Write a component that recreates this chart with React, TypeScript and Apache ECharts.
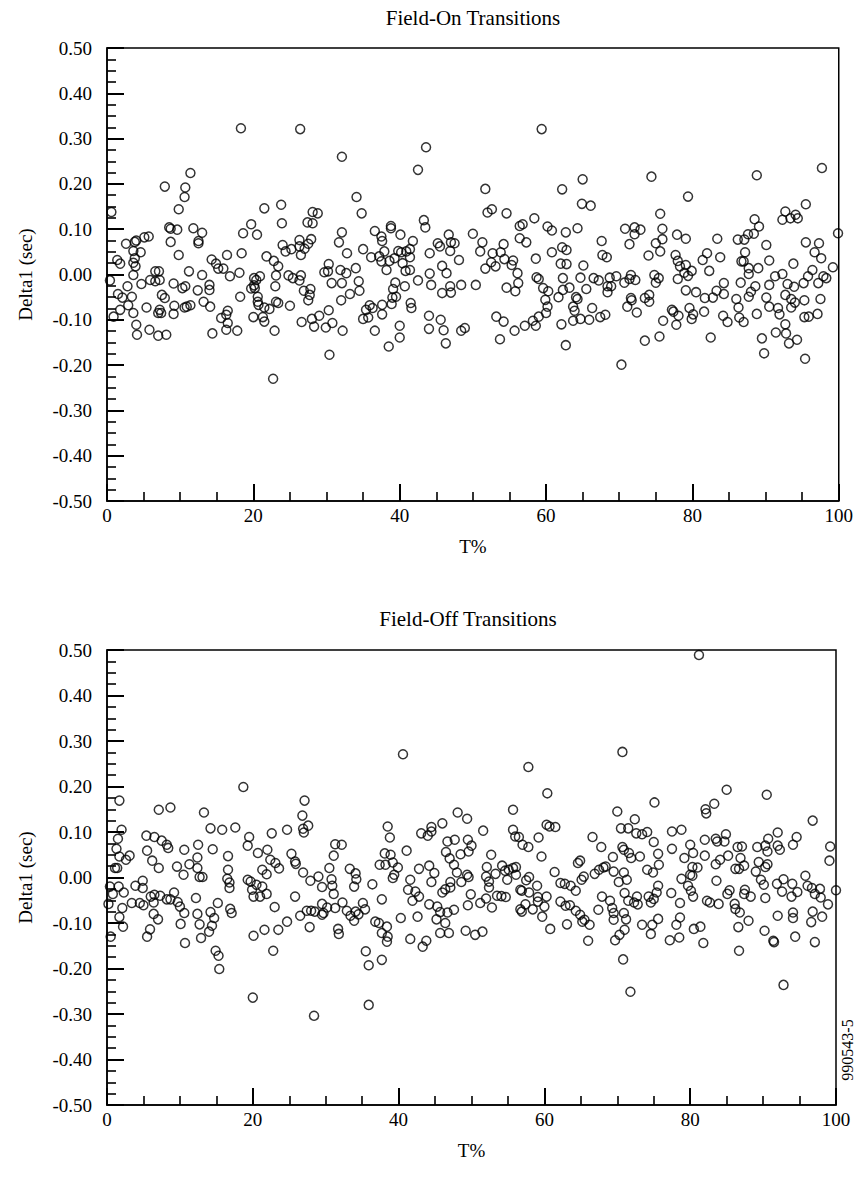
import React, { useEffect, useRef } from 'react';
import * as echarts from 'echarts';

// [T%, Delta1 (sec)]
const fieldOnPoints: number[][] = [
  [0.6,0.138],[11.4,0.224],[7.9,0.194],[10.7,0.192],[10.6,0.171],[9.8,0.144],[8.5,0.104],[8.7,0.101],[9.6,0.099],[11.8,0.102],[13.0,0.092],[12.5,0.074],[12.5,0.069],[8.7,0.072],[9.8,0.043],[5.1,0.082],[5.7,0.084],[4.0,0.075],[3.8,0.072],[2.6,0.068],[3.6,0.052],[4.6,0.049],[3.8,0.036],[3.6,0.026],[1.4,0.032],[1.8,0.024],[3.9,0.018],[3.6,-0.001],[0.4,-0.013],[2.8,-0.026],[4.7,-0.021],[1.5,-0.043],[2.1,-0.051],[3.4,-0.049],[2.9,-0.068],[1.8,-0.078],[0.9,-0.093],[3.6,-0.085],[4.0,-0.111],[4.1,-0.133],[5.8,-0.122],[7.0,-0.135],[8.1,-0.133],[5.4,-0.073],[6.6,0.007],[7.1,0.007],[5.9,-0.012],[6.6,-0.015],[7.2,-0.012],[7.5,-0.045],[7.9,-0.052],[9.1,-0.020],[10.3,-0.030],[10.7,-0.026],[11.2,0.007],[12.4,-0.035],[13.0,-0.001],[14.0,-0.023],[14.0,-0.034],[13.2,-0.060],[14.1,-0.071],[7.2,-0.078],[7.4,-0.085],[7.0,-0.085],[9.2,-0.069],[9.1,-0.087],[10.6,-0.073],[10.9,-0.071],[11.4,-0.068],[14.4,-0.130],[14.3,0.033],[14.9,0.024],[15.2,0.013],[15.6,-0.096],[15.9,0.013],
  [18.3,0.323],[26.4,0.321],[32.1,0.260],[21.5,0.146],[23.8,0.154],[19.7,0.111],[23.9,0.113],[28.1,0.138],[28.8,0.135],[27.4,0.115],[28.1,0.113],[18.6,0.091],[20.5,0.088],[32.1,0.093],[31.7,0.071],[32.8,0.047],[26.3,0.076],[27.9,0.078],[27.5,0.068],[26.3,0.062],[27.0,0.057],[26.5,0.043],[24.0,0.065],[24.4,0.051],[25.2,0.056],[16.4,0.043],[18.4,0.047],[21.8,0.040],[22.8,0.030],[23.4,0.018],[16.8,-0.004],[18.1,0.004],[23.1,-0.002],[24.8,-0.002],[25.4,-0.008],[26.5,-0.002],[26.3,-0.013],[20.1,-0.008],[20.4,-0.012],[20.9,-0.004],[19.7,-0.031],[20.2,-0.030],[20.1,-0.024],[20.6,-0.049],[20.6,-0.060],[20.7,-0.067],[21.5,-0.073],[22.2,-0.076],[23.0,-0.026],[23.1,-0.060],[23.4,-0.063],[25.0,-0.069],[18.2,-0.049],[26.9,-0.036],[27.8,-0.032],[27.7,-0.045],[27.5,-0.057],[29.7,0.005],[30.3,0.023],[30.2,0.007],[30.7,-0.019],[31.9,0.010],[32.7,0.003],[32.1,-0.019],[33.2,-0.043],[32.0,-0.057],[30.3,-0.079],[20.0,-0.094],[21.3,-0.094],[21.5,-0.104],[16.5,-0.080],[16.5,-0.107],[16.3,-0.089],[16.3,-0.122],[17.8,-0.124],[22.9,-0.124],[26.6,-0.105],[28.0,-0.098],[28.3,-0.115],[29.0,-0.091],[29.9,-0.117],[30.8,-0.107],[32.2,-0.124],[30.4,-0.177],[22.7,-0.230],
  [43.6,0.281],[42.5,0.231],[34.1,0.171],[34.8,0.135],[43.3,0.120],[43.5,0.104],[38.8,0.107],[38.8,0.102],[36.6,0.096],[37.5,0.084],[37.6,0.074],[40.1,0.088],[41.8,0.074],[35.0,0.056],[36.1,0.038],[37.2,0.040],[37.5,0.029],[37.9,0.051],[38.6,0.030],[38.2,0.010],[39.3,0.036],[39.8,0.052],[40.2,0.049],[40.9,0.051],[41.4,0.056],[41.4,0.038],[40.4,0.025],[40.8,0.008],[41.4,0.010],[44.1,0.047],[45.2,0.069],[45.5,0.062],[46.7,0.088],[47.0,0.071],[46.9,0.052],[47.5,0.069],[45.8,0.019],[46.4,0.003],[48.1,0.032],[50.0,0.090],[34.0,0.014],[34.4,-0.015],[34.5,-0.036],[42.5,-0.013],[44.1,0.002],[44.3,-0.023],[45.8,-0.041],[46.9,-0.026],[47.0,-0.040],[48.4,-0.023],[50.4,-0.023],[39.4,-0.018],[39.1,-0.032],[39.0,-0.051],[39.5,-0.049],[40.7,-0.026],[38.9,-0.065],[37.6,-0.067],[35.9,-0.068],[36.3,-0.074],[35.4,-0.078],[35.7,-0.095],[35.0,-0.098],[37.6,-0.088],[41.5,-0.063],[41.6,-0.074],[44.0,-0.091],[45.6,-0.100],[44.0,-0.120],[46.0,-0.123],[48.4,-0.124],[48.9,-0.118],[40.0,-0.113],[40.0,-0.139],[36.6,-0.124],[38.5,-0.159],[46.3,-0.152],
  [59.4,0.321],[65.0,0.210],[62.2,0.188],[51.7,0.189],[52.0,0.137],[52.6,0.144],[54.6,0.135],[64.9,0.156],[66.1,0.152],[58.4,0.124],[56.4,0.107],[56.8,0.111],[60.2,0.106],[60.8,0.097],[62.7,0.093],[64.3,0.102],[56.4,0.080],[57.3,0.071],[51.3,0.071],[51.0,0.051],[54.2,0.067],[52.7,0.047],[53.8,0.049],[54.3,0.034],[55.5,0.031],[55.3,0.021],[52.5,0.027],[51.7,0.013],[53.1,0.018],[58.6,0.035],[60.8,0.049],[62.2,0.060],[62.8,0.054],[62.0,0.024],[62.8,0.023],[65.1,0.020],[67.6,0.074],[67.7,0.043],[56.1,0.003],[56.2,-0.019],[55.8,-0.037],[54.6,-0.029],[58.7,-0.006],[59.0,-0.010],[59.6,-0.030],[60.3,-0.037],[59.9,-0.056],[60.2,-0.071],[60.0,-0.085],[62.3,-0.008],[63.2,-0.029],[62.3,-0.034],[61.7,-0.050],[64.7,-0.007],[65.5,-0.032],[66.5,-0.008],[67.2,-0.013],[64.1,-0.050],[64.3,-0.054],[63.7,-0.071],[63.9,-0.080],[63.7,-0.102],[64.7,-0.098],[65.9,-0.100],[66.3,-0.074],[67.4,-0.094],[62.1,-0.110],[62.7,-0.156],[53.2,-0.093],[54.2,-0.104],[55.7,-0.124],[57.1,-0.113],[58.2,-0.102],[58.6,-0.113],[59.0,-0.093],[53.7,-0.143],
  [74.4,0.216],[79.4,0.172],[75.6,0.134],[70.8,0.101],[72.1,0.104],[72.9,0.099],[72.1,0.089],[71.4,0.067],[75.9,0.101],[75.9,0.078],[75.0,0.069],[75.6,0.051],[77.9,0.088],[79.1,0.079],[83.4,0.079],[68.3,0.038],[74.0,0.042],[77.7,0.043],[78.0,0.030],[78.3,0.018],[79.1,0.021],[79.9,0.008],[78.9,0.004],[79.4,-0.003],[82.0,0.047],[81.4,0.032],[82.3,0.008],[83.8,0.038],[68.7,-0.007],[69.6,-0.004],[68.4,-0.026],[68.9,-0.026],[68.4,-0.039],[70.7,-0.018],[71.6,-0.001],[71.4,-0.010],[72.2,-0.012],[74.8,-0.001],[75.4,-0.008],[75.0,-0.018],[78.0,-0.010],[79.1,-0.035],[80.5,-0.039],[81.7,-0.052],[82.8,-0.051],[83.3,-0.036],[84.3,-0.019],[84.3,-0.043],[71.6,-0.052],[71.7,-0.057],[71.1,-0.071],[73.5,-0.052],[74.1,-0.045],[74.1,-0.060],[72.4,-0.084],[68.1,-0.089],[76.0,-0.102],[77.2,-0.078],[77.4,-0.082],[78.1,-0.091],[77.8,-0.111],[79.6,-0.074],[80.1,-0.088],[79.9,-0.098],[81.6,-0.082],[84.2,-0.091],[84.8,-0.105],[73.5,-0.146],[75.5,-0.137],[82.5,-0.139],[70.3,-0.199],
  [97.7,0.235],[88.8,0.219],[95.5,0.155],[99.9,0.091],[92.7,0.139],[92.3,0.121],[93.4,0.124],[94.1,0.132],[94.4,0.124],[88.5,0.122],[89.1,0.106],[88.4,0.090],[87.6,0.089],[87.1,0.077],[86.2,0.077],[90.1,0.065],[95.5,0.071],[97.3,0.069],[96.7,0.049],[97.6,0.036],[87.2,0.049],[86.7,0.029],[87.0,0.029],[87.7,0.014],[89.0,0.014],[87.7,0.001],[90.5,0.031],[93.8,0.024],[99.2,0.016],[96.4,0.010],[95.8,-0.004],[95.2,-0.019],[97.9,-0.004],[98.3,-0.008],[97.2,-0.019],[91.3,-0.004],[92.3,0.001],[93.0,-0.021],[93.9,-0.027],[86.6,-0.018],[90.5,-0.023],[88.6,-0.026],[88.0,-0.038],[87.7,-0.049],[90.1,-0.051],[90.5,-0.071],[91.7,-0.074],[91.9,-0.088],[92.7,-0.045],[93.5,-0.054],[94.0,-0.062],[93.5,-0.073],[95.3,-0.057],[97.5,-0.054],[86.0,-0.054],[86.3,-0.073],[88.8,-0.087],[86.4,-0.095],[87.0,-0.105],[95.3,-0.094],[95.9,-0.093],[97.1,-0.087],[92.7,-0.110],[92.8,-0.130],[93.2,-0.152],[94.3,-0.144],[91.4,-0.128],[89.5,-0.141],[89.8,-0.174],[95.4,-0.186],
];

const fieldOffPoints: number[][] = [
  [1.7,0.169],[7.1,0.149],[8.7,0.154],[13.3,0.143],[2.0,0.105],[1.5,0.085],[1.3,0.063],[1.7,0.046],[2.6,0.039],[3.1,0.048],[1.1,0.021],[1.4,0.021],[5.4,0.092],[6.5,0.089],[7.5,0.081],[8.2,0.072],[8.4,0.065],[5.5,0.059],[6.2,0.037],[7.1,0.021],[10.6,0.061],[12.5,0.072],[12.4,0.044],[11.3,0.029],[10.5,0.006],[12.4,0.021],[12.7,0.001],[13.1,0.001],[9.6,0.024],[14.2,0.108],[15.8,0.105],[14.5,0.062],[0.4,-0.020],[1.6,-0.020],[3.9,-0.018],[4.9,-0.007],[4.9,-0.023],[0.8,-0.036],[2.3,-0.033],[0.2,-0.058],[2.1,-0.067],[1.7,-0.087],[2.2,-0.108],[0.5,-0.130],[3.4,-0.056],[4.5,-0.056],[5.0,-0.061],[6.0,-0.042],[6.5,-0.038],[6.4,-0.055],[7.3,-0.040],[8.2,-0.048],[8.7,-0.048],[9.2,-0.033],[9.7,-0.054],[10.0,-0.064],[10.6,-0.078],[12.2,-0.045],[6.4,-0.080],[7.0,-0.092],[5.9,-0.114],[5.5,-0.130],[10.1,-0.102],[10.7,-0.144],[12.4,-0.080],[12.7,-0.103],[14.2,-0.076],[14.7,-0.089],[14.4,-0.106],[14.0,-0.119],[12.9,-0.133],[15.2,-0.056],[14.9,-0.161],[15.3,-0.172],[15.4,-0.201],
  [18.7,0.199],[27.1,0.169],[26.8,0.136],[27.6,0.114],[26.9,0.107],[27.0,0.099],[17.6,0.110],[19.5,0.089],[19.3,0.070],[22.6,0.097],[24.7,0.105],[20.7,0.054],[22.0,0.061],[16.6,0.047],[16.6,0.017],[16.5,-0.003],[16.8,-0.011],[16.8,-0.023],[22.4,0.039],[23.1,0.032],[23.6,0.020],[21.3,0.017],[21.9,0.007],[25.3,0.052],[25.8,0.035],[25.9,0.030],[26.9,0.011],[19.3,-0.005],[19.7,-0.009],[20.5,-0.016],[21.3,-0.020],[19.9,-0.027],[20.1,-0.042],[21.0,-0.042],[21.9,-0.036],[25.8,-0.042],[23.0,-0.065],[27.9,-0.007],[29.0,0.002],[29.5,-0.021],[30.8,-0.004],[30.9,-0.018],[31.1,-0.036],[30.5,0.021],[31.1,0.048],[31.3,0.073],[32.2,0.072],[33.3,0.019],[16.9,-0.069],[17.1,-0.078],[29.5,-0.058],[29.7,-0.078],[29.5,-0.082],[28.5,-0.075],[27.4,-0.073],[28.0,-0.073],[26.5,-0.084],[30.2,-0.066],[31.3,-0.067],[32.3,-0.055],[32.9,-0.073],[33.4,-0.084],[24.7,-0.097],[23.5,-0.115],[21.6,-0.115],[20.1,-0.128],[27.8,-0.109],[31.7,-0.113],[31.8,-0.124],[22.8,-0.161],[20.0,-0.264],[28.4,-0.304],
  [40.6,0.271],[48.1,0.143],[49.4,0.129],[46.0,0.119],[38.5,0.112],[38.8,0.088],[43.1,0.097],[44.0,0.092],[44.5,0.111],[44.5,0.101],[46.7,0.079],[47.7,0.083],[49.5,0.083],[50.0,0.070],[49.6,0.057],[48.5,0.051],[41.1,0.059],[38.1,0.053],[38.9,0.050],[37.4,0.028],[38.2,0.028],[39.2,0.033],[39.9,0.022],[39.4,0.006],[39.2,-0.001],[46.5,0.056],[47.0,0.042],[47.6,0.028],[48.0,0.011],[42.8,0.019],[44.2,0.026],[44.9,0.010],[44.5,-0.010],[49.4,0.006],[49.6,0.001],[48.6,-0.010],[47.1,-0.010],[47.1,-0.022],[46.0,-0.033],[46.4,-0.026],[34.1,0.009],[34.2,-0.004],[33.9,-0.020],[36.4,-0.015],[41.6,-0.005],[41.3,-0.027],[42.3,-0.031],[42.8,-0.042],[41.9,-0.051],[37.7,-0.048],[49.9,-0.037],[49.5,-0.061],[35.1,-0.056],[35.4,-0.070],[34.1,-0.075],[34.5,-0.081],[33.9,-0.095],[44.2,-0.059],[45.3,-0.064],[45.7,-0.076],[46.7,-0.077],[47.6,-0.071],[45.2,-0.092],[46.4,-0.100],[40.3,-0.089],[42.6,-0.086],[36.8,-0.097],[37.3,-0.100],[38.4,-0.108],[37.7,-0.122],[38.5,-0.130],[38.4,-0.141],[41.6,-0.135],[45.7,-0.122],[46.9,-0.122],[49.2,-0.117],[50.5,-0.126],[43.8,-0.139],[43.3,-0.152],[35.5,-0.162],[35.9,-0.193],[37.7,-0.181],[35.9,-0.280],
  [57.8,0.243],[60.4,0.185],[55.7,0.149],[60.3,0.116],[60.7,0.112],[61.5,0.111],[51.6,0.103],[55.7,0.105],[56.0,0.090],[56.5,0.089],[59.2,0.088],[57.0,0.072],[57.8,0.067],[66.6,0.089],[67.8,0.067],[52.7,0.050],[59.6,0.046],[64.9,0.037],[64.6,0.032],[52.1,0.023],[54.2,0.026],[54.6,0.015],[55.1,0.017],[55.7,0.021],[56.1,0.023],[53.3,0.008],[52.0,0.002],[52.4,-0.009],[52.4,-0.022],[54.9,-0.005],[56.1,0.006],[61.4,0.012],[65.4,0.002],[65.1,-0.005],[66.9,0.008],[67.5,0.017],[68.1,0.022],[57.9,0.001],[57.5,-0.006],[59.0,-0.018],[62.2,-0.012],[62.8,-0.014],[63.6,-0.018],[64.3,-0.029],[56.7,-0.027],[56.9,-0.029],[57.9,-0.033],[59.1,-0.043],[59.1,-0.053],[60.3,-0.042],[60.0,-0.064],[53.5,-0.040],[54.1,-0.041],[54.7,-0.043],[52.0,-0.046],[51.2,-0.056],[52.8,-0.066],[57.4,-0.059],[56.7,-0.070],[56.9,-0.075],[58.4,-0.070],[59.7,-0.086],[60.8,-0.113],[62.2,-0.053],[62.9,-0.062],[63.5,-0.061],[64.3,-0.073],[64.9,-0.082],[65.5,-0.093],[65.2,-0.097],[66.2,-0.104],[63.1,-0.103],[67.4,-0.071],[67.9,-0.042],[66.0,-0.139],[51.5,-0.119],
  [70.7,0.276],[85.0,0.193],[75.1,0.165],[70.0,0.145],[72.4,0.128],[82.1,0.150],[82.2,0.141],[83.3,0.162],[70.5,0.108],[71.5,0.108],[72.6,0.097],[73.4,0.095],[74.1,0.100],[77.5,0.101],[78.8,0.105],[75.0,0.078],[75.6,0.052],[75.7,0.028],[70.7,0.067],[70.9,0.061],[71.6,0.054],[71.9,0.043],[73.1,0.046],[69.4,0.045],[68.4,0.024],[69.5,0.013],[70.9,0.011],[71.3,-0.005],[70.2,-0.010],[74.1,0.017],[74.9,0.011],[77.5,0.063],[80.0,0.072],[79.2,0.043],[80.4,0.054],[80.3,0.023],[81.0,0.022],[80.0,0.006],[80.3,0.004],[78.8,-0.003],[79.7,-0.018],[80.1,-0.029],[80.4,-0.042],[82.0,0.083],[83.5,0.085],[83.7,0.079],[84.9,0.095],[84.7,0.079],[82.0,0.048],[84.1,0.039],[83.5,0.029],[83.6,-0.007],[69.0,-0.051],[69.3,-0.067],[69.5,-0.078],[69.5,-0.093],[71.0,-0.034],[71.5,-0.051],[72.3,-0.055],[72.7,-0.042],[72.8,-0.059],[74.3,-0.042],[74.6,-0.055],[75.0,-0.047],[75.6,-0.018],[75.4,-0.033],[77.4,-0.034],[78.6,-0.056],[70.9,-0.078],[71.2,-0.092],[71.0,-0.115],[70.3,-0.126],[69.7,-0.138],[73.4,-0.104],[74.8,-0.104],[74.6,-0.124],[75.6,-0.091],[78.6,-0.088],[78.1,-0.104],[77.2,-0.138],[78.5,-0.132],[80.5,-0.113],[81.4,-0.108],[81.8,-0.144],[82.3,-0.051],[82.7,-0.055],[83.9,-0.058],[70.8,-0.180],[71.8,-0.251],[81.2,0.489],
  [90.5,0.182],[96.8,0.125],[92.0,0.099],[90.7,0.085],[90.3,0.070],[89.2,0.067],[94.6,0.089],[94.1,0.072],[92.0,0.070],[92.3,0.061],[86.5,0.067],[87.1,0.068],[90.6,0.057],[99.2,0.068],[99.1,0.037],[85.2,0.048],[86.9,0.043],[87.4,0.026],[86.2,0.019],[86.7,0.019],[89.4,0.034],[90.6,0.029],[90.3,0.023],[89.0,0.013],[95.8,0.004],[96.1,-0.018],[96.7,-0.023],[97.1,-0.036],[92.8,-0.004],[91.9,-0.014],[92.6,-0.031],[94.0,-0.014],[93.9,-0.042],[94.7,-0.032],[97.8,-0.025],[97.9,-0.044],[98.9,-0.059],[100.0,-0.028],[89.7,-0.005],[90.1,-0.016],[85.4,-0.028],[85.1,-0.036],[87.5,-0.027],[87.4,-0.036],[88.3,-0.042],[90.3,-0.045],[86.1,-0.058],[86.2,-0.069],[86.8,-0.077],[88.0,-0.095],[86.6,-0.109],[92.0,-0.084],[94.1,-0.077],[94.1,-0.089],[96.8,-0.075],[96.6,-0.098],[98.1,-0.086],[90.2,-0.117],[91.4,-0.139],[91.5,-0.142],[94.4,-0.130],[97.1,-0.142],[86.7,-0.161],[92.8,-0.236],
];

const panelTitles = ['Field-On Transitions', 'Field-Off Transitions'];
const yAxisTitle = 'Delta1 (sec)';
const xAxisTitle = 'T%';
const figureCode = '990543-5';
const xRange = [0, 100];
const yRange = [-0.5, 0.5];

const FONT = '"Liberation Serif", "Times New Roman", serif';

export default function App() {
  const ref = useRef<HTMLDivElement>(null);
  useEffect(() => {
    if (!ref.current) return;
    const chart = echarts.init(ref.current, null, { renderer: 'svg' });
    const grids = [
      { left: 107, top: 48, width: 732, height: 453 },
      { left: 107, top: 650, width: 729, height: 455 },
    ];
    const labelStyle = { color: '#000', fontFamily: FONT, fontSize: 19 };
    const majorTick = { show: true, inside: true, length: 17, lineStyle: { color: '#000', width: 2 } };
    const minorTick = { show: true, splitNumber: 4, length: 9, lineStyle: { color: '#000', width: 1.6 } };
    const xAxes = grids.map((_, i) => ({
      gridIndex: i,
      type: 'value',
      min: xRange[0],
      max: xRange[1],
      interval: 20,
      axisLine: { show: true, onZero: false, lineStyle: { color: '#000', width: 1.5 } },
      axisTick: majorTick,
      minorTick,
      splitLine: { show: false },
      axisLabel: { ...labelStyle, margin: 5 },
      name: xAxisTitle,
      nameLocation: 'middle',
      nameGap: 36,
      nameTextStyle: { ...labelStyle },
    }));
    const yAxes = grids.map((_, i) => ({
      gridIndex: i,
      type: 'value',
      min: yRange[0],
      max: yRange[1],
      interval: 0.1,
      axisLine: { show: true, onZero: false, lineStyle: { color: '#000', width: 1.5 } },
      axisTick: majorTick,
      minorTick,
      splitLine: { show: false },
      axisLabel: {
        ...labelStyle,
        margin: 15,
        formatter: (v: number) => (Math.abs(v) < 1e-9 ? 0 : v).toFixed(2),
      },
      name: yAxisTitle,
      nameLocation: 'middle',
      nameRotate: 90,
      nameGap: 72,
      nameTextStyle: { ...labelStyle },
    }));
    const series = [fieldOnPoints, fieldOffPoints].map((pts, i) => ({
      type: 'scatter',
      xAxisIndex: i,
      yAxisIndex: i,
      data: pts,
      symbol: 'circle',
      symbolSize: 9,
      itemStyle: { color: 'rgba(0,0,0,0)', borderColor: '#000', borderWidth: 1.5 },
      emphasis: { disabled: true },
    }));
    const textStyle = (t: string, size: number) => ({
      text: t, fill: '#000', fontFamily: FONT, fontSize: size,
      align: 'center', verticalAlign: 'middle', textAlign: 'center', textVerticalAlign: 'middle',
    });
    chart.setOption({
      animation: false,
      backgroundColor: '#fff',
      grid: grids.map((g) => ({ ...g, show: true, borderColor: '#000', borderWidth: 1.5, backgroundColor: 'rgba(0,0,0,0)' })),
      xAxis: xAxes,
      yAxis: yAxes,
      series,
      graphic: [
        { type: 'text', x: 473, y: 18, style: textStyle(panelTitles[0], 21) },
        { type: 'text', x: 468, y: 619, style: textStyle(panelTitles[1], 21) },
        { type: 'text', x: 847, y: 1050, rotation: Math.PI / 2, style: textStyle(figureCode, 16) },
      ],
    });
    return () => chart.dispose();
  }, []);
  return <div ref={ref} style={{ position: 'absolute', left: 0, top: 0, width: 856, height: 1187, background: '#fff' }} />;
}
